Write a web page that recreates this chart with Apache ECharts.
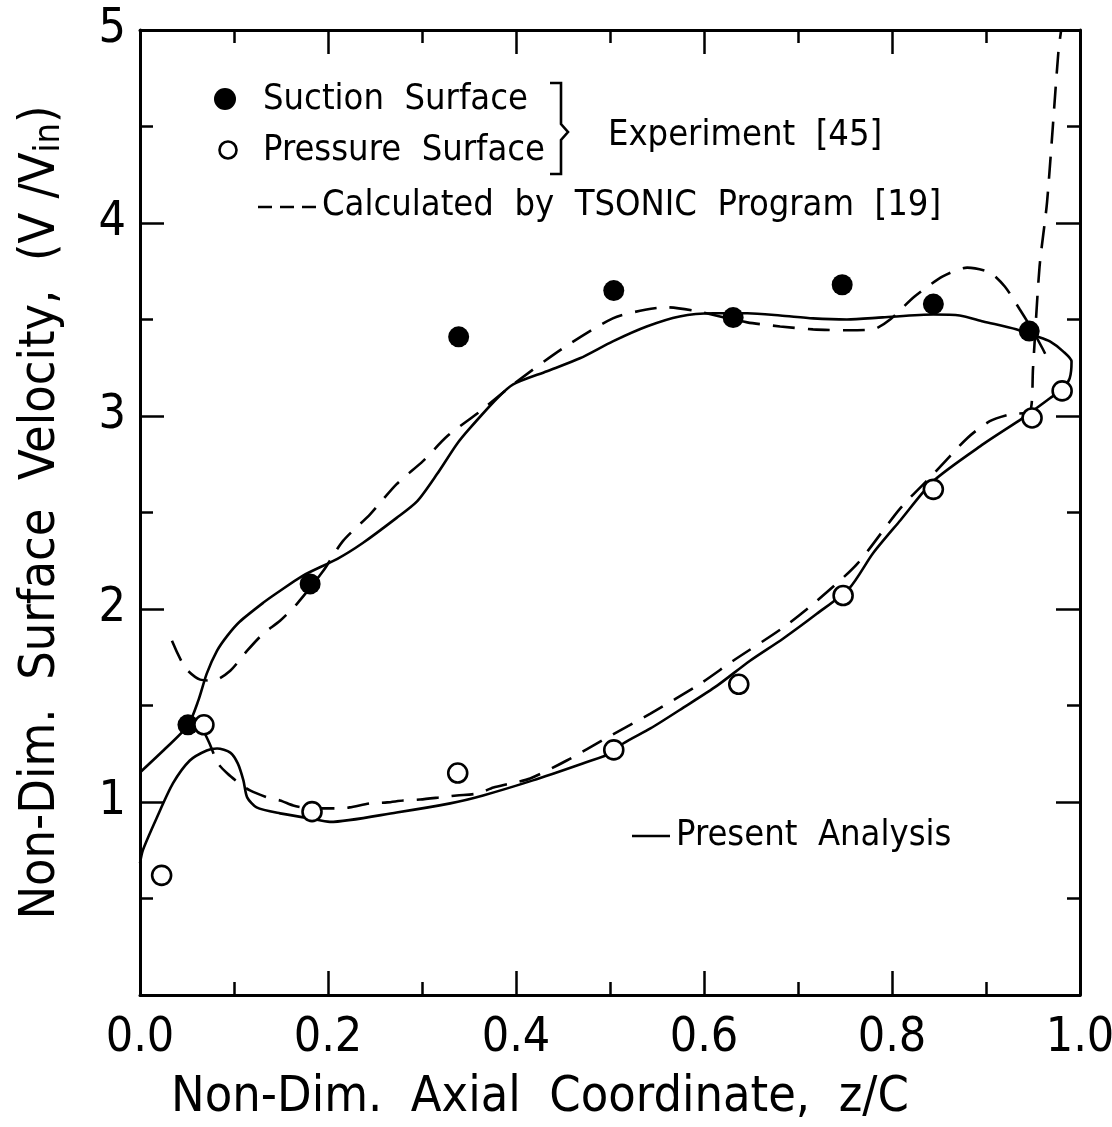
<!DOCTYPE html>
<html><head><meta charset="utf-8">
<script src="https://cdn.jsdelivr.net/npm/echarts@6/dist/echarts.min.js"></script>
<style>html,body{margin:0;padding:0;background:#fff;overflow:hidden}#c{width:1112px;height:1127px}</style>
</head><body><div id="c"></div>
<script>
// ---- tick labels ----
const xTickLabels = ['0.0', '0.2', '0.4', '0.6', '0.8', '1.0'];
const yTickLabels = ['', '1', '2', '3', '4', '5'];

// ---- Experiment [45] ----
const suctionX = [0.051, 0.181, 0.339, 0.504, 0.631, 0.747, 0.844, 0.946];
const suctionY = [1.40, 2.13, 3.41, 3.65, 3.51, 3.68, 3.58, 3.44];
const pressureX = [0.023, 0.068, 0.183, 0.338, 0.504, 0.637, 0.748, 0.844, 0.949, 0.981];
const pressureY = [0.62, 1.40, 0.95, 1.15, 1.27, 1.61, 2.07, 2.62, 2.99, 3.13];

// ---- Present Analysis (closed loop: pressure side LE -> TE -> suction side LE) ----
const presentX = [0.000, 0.003, 0.018, 0.035, 0.053, 0.071, 0.082, 0.096, 0.104, 0.110, 0.114, 0.124, 0.149, 0.181, 0.202,
  0.273, 0.330, 0.365, 0.418, 0.471, 0.503, 0.514, 0.543, 0.578, 0.614, 0.649, 0.684, 0.720, 0.755, 0.780, 0.809, 0.844,
  0.897, 0.939, 0.968, 0.982, 0.989, 0.991, 0.982, 0.968, 0.954, 0.932, 0.897, 0.872, 0.844, 0.790, 0.752, 0.716, 0.681,
  0.646, 0.610, 0.574, 0.539, 0.503, 0.468, 0.433, 0.397, 0.380, 0.351, 0.337, 0.316, 0.295, 0.273, 0.237, 0.210, 0.173,
  0.146, 0.131, 0.106, 0.093, 0.082, 0.071, 0.062, 0.051, 0.027, 0.000];
const presentY = [0.683, 0.750, 0.920, 1.096, 1.215, 1.267, 1.277, 1.256, 1.200, 1.112, 1.024, 0.972, 0.941, 0.915, 0.897,
  0.946, 0.993, 1.034, 1.112, 1.200, 1.256, 1.303, 1.381, 1.489, 1.603, 1.732, 1.846, 1.975, 2.110, 2.290, 2.460, 2.663,
  2.854, 2.989, 3.092, 3.144, 3.195, 3.283, 3.335, 3.387, 3.413, 3.449, 3.490, 3.521, 3.526, 3.511, 3.500, 3.506, 3.521,
  3.532, 3.532, 3.516, 3.464, 3.387, 3.299, 3.232, 3.164, 3.092, 2.937, 2.854, 2.699, 2.559, 2.472, 2.342, 2.260, 2.172,
  2.084, 2.032, 1.934, 1.862, 1.784, 1.665, 1.525, 1.396, 1.277, 1.153];

// ---- Calculated by TSONIC Program [19] ----
const tsonicSuctionX = [0.034, 0.048, 0.064, 0.078, 0.096, 0.114, 0.131, 0.149, 0.167, 0.195, 0.216, 0.245, 0.273, 0.301,
  0.327, 0.362, 0.397, 0.450, 0.503, 0.539, 0.561, 0.588, 0.617, 0.646, 0.681, 0.716, 0.752, 0.780, 0.798, 0.824, 0.854,
  0.880, 0.904, 0.920, 0.936, 0.949, 0.960, 0.968];
const tsonicSuctionY = [1.836, 1.696, 1.634, 1.629, 1.680, 1.784, 1.872, 1.939, 2.027, 2.198, 2.353, 2.492, 2.647, 2.766,
  2.896, 3.025, 3.164, 3.351, 3.506, 3.552, 3.563, 3.547, 3.516, 3.485, 3.464, 3.449, 3.444, 3.449, 3.500, 3.619, 3.723,
  3.769, 3.744, 3.671, 3.552, 3.449, 3.351, 3.273];
const tsonicPressureX = [0.069, 0.074, 0.083, 0.093, 0.106, 0.117, 0.138, 0.149, 0.163, 0.173, 0.191, 0.209, 0.223, 0.245,
  0.263, 0.280, 0.298, 0.319, 0.337, 0.359, 0.376, 0.394, 0.415, 0.454, 0.497, 0.543, 0.596, 0.631, 0.684, 0.720, 0.763,
  0.809, 0.844, 0.880, 0.904, 0.926, 0.947, 0.950, 0.957, 0.965, 0.977, 0.980];
const tsonicPressureY = [1.355, 1.303, 1.200, 1.148, 1.096, 1.060, 1.019, 1.008, 0.982, 0.972, 0.967, 0.967, 0.972, 0.993,
  0.998, 1.008, 1.013, 1.024, 1.034, 1.044, 1.075, 1.096, 1.122, 1.215, 1.334, 1.458, 1.613, 1.732, 1.903, 2.042, 2.234,
  2.523, 2.699, 2.885, 2.973, 3.009, 3.025, 3.247, 3.775, 4.111, 4.886, 5.000];

const zip = (xs, ys) => xs.map((x, i) => [x, ys[i]]);

const FONT = "'DejaVu Sans Condensed', 'DejaVu Sans', sans-serif";
const NUMFONT = "'DejaVu Sans Condensed', 'DejaVu Sans', sans-serif";
const INK = '#000';

function axisCommon(extra) {
  return Object.assign({
    type: 'value',
    axisLine: { show: true, onZero: false, lineStyle: { color: INK, width: 3 } },
    axisTick: { show: true, inside: true, length: 24, lineStyle: { color: INK, width: 2.5 } },
    minorTick: { show: true, splitNumber: 2, length: 13, lineStyle: { color: INK, width: 2.5 } },
    splitLine: { show: false },
    minorSplitLine: { show: false }
  }, extra);
}

const chart = echarts.init(document.getElementById('c'), null, { renderer: 'canvas' });
chart.setOption({
  backgroundColor: '#fff',
  animation: false,
  grid: { left: 140, right: 32, top: 30, bottom: 132, containLabel: false, outerBoundsMode: 'none' },
  xAxis: [
    axisCommon({
      position: 'bottom', min: 0, max: 1, interval: 0.2,
      axisLabel: { show: true, color: INK, fontFamily: NUMFONT, fontSize: 48, margin: 20,
        formatter: v => xTickLabels[Math.round(v / 0.2)] },
      name: 'Non-Dim.  Axial  Coordinate,  z/C', nameLocation: 'middle', nameGap: 78,
      nameTextStyle: { color: INK, fontFamily: FONT, fontSize: 50, padding: [0, 140, 0, 0], verticalAlign: 'top' }
    }),
    axisCommon({ position: 'top', min: 0, max: 1, interval: 0.2, axisLabel: { show: false } })
  ],
  yAxis: [
    axisCommon({
      position: 'left', min: 0, max: 5, interval: 1,
      axisLabel: { show: true, color: INK, fontFamily: NUMFONT, fontSize: 48, margin: 14,
        formatter: v => yTickLabels[Math.round(v)] },
      name: 'Non-Dim.  Surface  Velocity,  (V /V{sub|in})', nameLocation: 'middle', nameGap: 72,
      nameTextStyle: { color: INK, fontFamily: FONT, fontSize: 50, padding: [0, 0, 0, 0],
        rich: { sub: { fontFamily: FONT, fontSize: 36, verticalAlign: 'bottom', padding: [18, 0, 0, 0] } } }
    }),
    axisCommon({ position: 'right', min: 0, max: 5, interval: 1, axisLabel: { show: false } })
  ],
  series: [
    { name: 'Present Analysis', type: 'line', data: zip(presentX, presentY), smooth: 0.25,
      showSymbol: false, symbol: 'none', lineStyle: { color: INK, width: 2.6 }, z: 2, clip: true },
    { name: 'TSONIC suction', type: 'line', data: zip(tsonicSuctionX, tsonicSuctionY), smooth: 0.25,
      showSymbol: false, symbol: 'none', lineStyle: { color: INK, width: 2.6, type: [22, 13] }, z: 2, clip: true },
    { name: 'TSONIC pressure', type: 'line', data: zip(tsonicPressureX, tsonicPressureY), smooth: 0.25,
      showSymbol: false, symbol: 'none', lineStyle: { color: INK, width: 2.6, type: [22, 13] }, z: 2, clip: true },
    { name: 'Suction Surface', type: 'scatter', data: zip(suctionX, suctionY), symbol: 'circle', symbolSize: 21,
      itemStyle: { color: INK, opacity: 1 }, z: 5 },
    { name: 'Pressure Surface', type: 'scatter', data: zip(pressureX, pressureY), symbol: 'circle', symbolSize: 19,
      itemStyle: { color: '#fff', borderColor: INK, borderWidth: 2.6, opacity: 1 }, z: 5 }
  ],
  graphic: [
    { type: 'circle', shape: { cx: 225, cy: 99, r: 11 }, style: { fill: INK } },
    { type: 'text', left: 263, top: 82, style: { text: 'Suction  Surface', font: '36px ' + FONT, fill: INK } },
    { type: 'circle', shape: { cx: 228, cy: 150, r: 8.5 }, style: { fill: '#fff', stroke: INK, lineWidth: 2.6 } },
    { type: 'text', left: 263, top: 133, style: { text: 'Pressure  Surface', font: '36px ' + FONT, fill: INK } },
    { type: 'polyline', shape: { points: [[550, 83], [561, 83], [561, 124], [568, 132], [561, 140], [561, 174], [550, 174]] },
      style: { stroke: INK, lineWidth: 2.6, fill: null } },
    { type: 'text', left: 608, top: 118, style: { text: 'Experiment  [45]', font: '36px ' + FONT, fill: INK } },
    { type: 'line', shape: { x1: 258, y1: 207, x2: 318, y2: 207 }, style: { stroke: INK, lineWidth: 2.6, lineDash: [14, 8] } },
    { type: 'text', left: 322, top: 188, style: { text: 'Calculated  by  TSONIC  Program  [19]', font: '36px ' + FONT, fill: INK } },
    { type: 'line', shape: { x1: 632, y1: 836, x2: 670, y2: 836 }, style: { stroke: INK, lineWidth: 2.6 } },
    { type: 'text', left: 676, top: 818, style: { text: 'Present  Analysis', font: '36px ' + FONT, fill: INK } }
  ]
});
</script>
</body></html>
